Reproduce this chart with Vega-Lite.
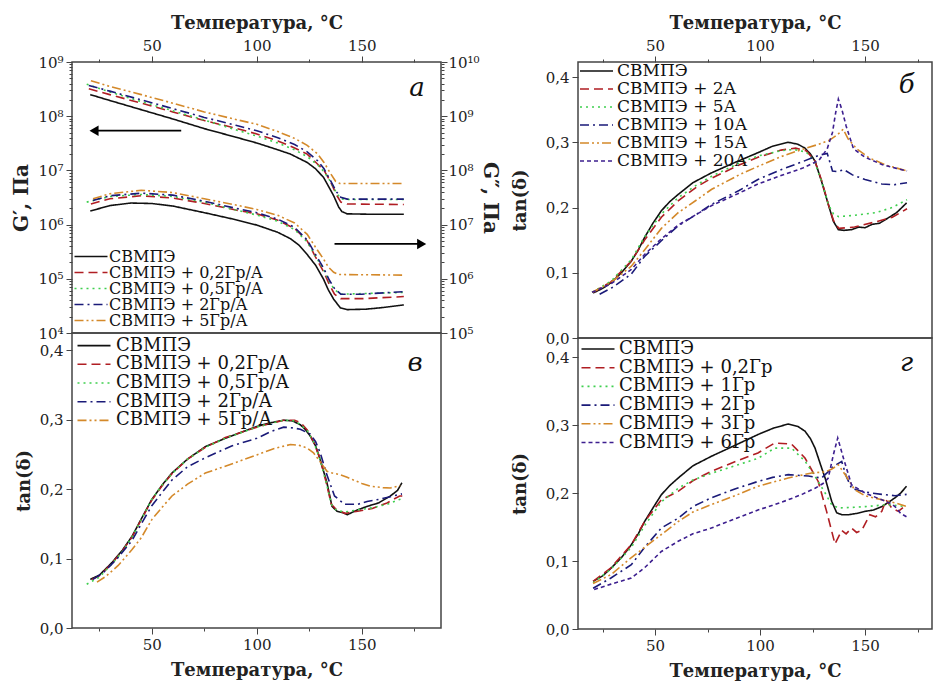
{
"$schema": "https://vega.github.io/schema/vega-lite/v6.json",
"background": "white",
"padding": {"left": 11, "top": 13, "right": 1, "bottom": 0},
"spacing": 10,
"config": {
 "view": {"stroke": "#444", "strokeWidth": 1.5},
 "font": "DejaVu Serif",
 "axis": {"domain": false, "grid": false, "labelFont": "DejaVu Serif", "labelFontSize": 15, "labelColor": "#222", "titleFont": "DejaVu Serif", "titleFontSize": 18, "titleFontWeight": "bold", "titleColor": "#222", "tickColor": "#444", "tickWidth": 1, "labelPadding": 3, "titlePadding": 6, "labelOverlap": false, "labelFlush": false},
 "line": {"strokeWidth": 1.6}
},
"datasets": {
 "aG1": [
  {"k":"0","T":20.7,"v":2.5e8},{"k":"0","T":30,"v":1.95e8},{"k":"0","T":43.8,"v":1.36e8},{"k":"0","T":60,"v":8.9e7},{"k":"0","T":75,"v":5.9e7},{"k":"0","T":90,"v":4.1e7},{"k":"0","T":100,"v":3.2e7},{"k":"0","T":110,"v":2.4e7},{"k":"0","T":116,"v":2.0e7},{"k":"0","T":124,"v":1.4e7},{"k":"0","T":128,"v":1.07e7},{"k":"0","T":131.8,"v":7.4e6},{"k":"0","T":134,"v":5.2e6},{"k":"0","T":136.6,"v":3.4e6},{"k":"0","T":139,"v":2.1e6},{"k":"0","T":140.5,"v":1.74e6},{"k":"0","T":143,"v":1.58e6},{"k":"0","T":155,"v":1.55e6},{"k":"0","T":170,"v":1.55e6},
  {"k":"0,2Гр/А","T":20,"v":3.2e8},{"k":"0,2Гр/А","T":30,"v":2.5e8},{"k":"0,2Гр/А","T":45,"v":1.74e8},{"k":"0,2Гр/А","T":60,"v":1.2e8},{"k":"0,2Гр/А","T":75,"v":8.3e7},{"k":"0,2Гр/А","T":90,"v":6.0e7},{"k":"0,2Гр/А","T":100,"v":4.7e7},{"k":"0,2Гр/А","T":110,"v":3.5e7},{"k":"0,2Гр/А","T":118,"v":2.6e7},{"k":"0,2Гр/А","T":124,"v":2.0e7},{"k":"0,2Гр/А","T":129,"v":1.3e7},{"k":"0,2Гр/А","T":132,"v":1.0e7},{"k":"0,2Гр/А","T":135,"v":6.3e6},{"k":"0,2Гр/А","T":138,"v":3.5e6},{"k":"0,2Гр/А","T":140,"v":2.6e6},{"k":"0,2Гр/А","T":143,"v":2.4e6},{"k":"0,2Гр/А","T":170,"v":2.35e6},
  {"k":"0,5Гр/А","T":19,"v":3.9e8},{"k":"0,5Гр/А","T":30,"v":2.8e8},{"k":"0,5Гр/А","T":45,"v":1.86e8},{"k":"0,5Гр/А","T":60,"v":1.26e8},{"k":"0,5Гр/А","T":75,"v":8.5e7},{"k":"0,5Гр/А","T":90,"v":5.6e7},{"k":"0,5Гр/А","T":100,"v":4.3e7},{"k":"0,5Гр/А","T":110,"v":3.2e7},{"k":"0,5Гр/А","T":118,"v":2.4e7},{"k":"0,5Гр/А","T":124,"v":1.8e7},{"k":"0,5Гр/А","T":129,"v":1.26e7},{"k":"0,5Гр/А","T":132,"v":9.5e6},{"k":"0,5Гр/А","T":135,"v":6.3e6},{"k":"0,5Гр/А","T":138,"v":3.8e6},{"k":"0,5Гр/А","T":140,"v":3.0e6},{"k":"0,5Гр/А","T":143,"v":2.9e6},{"k":"0,5Гр/А","T":170,"v":2.9e6},
  {"k":"2Гр/А","T":20,"v":3.7e8},{"k":"2Гр/А","T":30,"v":2.9e8},{"k":"2Гр/А","T":45,"v":2.0e8},{"k":"2Гр/А","T":60,"v":1.38e8},{"k":"2Гр/А","T":75,"v":9.5e7},{"k":"2Гр/А","T":90,"v":6.8e7},{"k":"2Гр/А","T":100,"v":5.4e7},{"k":"2Гр/А","T":110,"v":4.0e7},{"k":"2Гр/А","T":118,"v":3.0e7},{"k":"2Гр/А","T":124,"v":2.2e7},{"k":"2Гр/А","T":129,"v":1.5e7},{"k":"2Гр/А","T":132,"v":1.07e7},{"k":"2Гр/А","T":135,"v":6.6e6},{"k":"2Гр/А","T":138,"v":4.0e6},{"k":"2Гр/А","T":140,"v":3.2e6},{"k":"2Гр/А","T":143,"v":2.95e6},{"k":"2Гр/А","T":170,"v":2.95e6},
  {"k":"5Гр/А","T":21,"v":4.5e8},{"k":"5Гр/А","T":30,"v":3.55e8},{"k":"5Гр/А","T":45,"v":2.5e8},{"k":"5Гр/А","T":60,"v":1.74e8},{"k":"5Гр/А","T":75,"v":1.2e8},{"k":"5Гр/А","T":90,"v":8.7e7},{"k":"5Гр/А","T":100,"v":7.1e7},{"k":"5Гр/А","T":110,"v":5.2e7},{"k":"5Гр/А","T":118,"v":3.9e7},{"k":"5Гр/А","T":124,"v":2.9e7},{"k":"5Гр/А","T":129,"v":2.0e7},{"k":"5Гр/А","T":132,"v":1.4e7},{"k":"5Гр/А","T":135,"v":8.9e6},{"k":"5Гр/А","T":137.5,"v":6.3e6},{"k":"5Гр/А","T":139.5,"v":5.75e6},{"k":"5Гр/А","T":170,"v":5.75e6}
 ],
 "aG2": [
  {"k":"0","T":20.7,"v":1.78e7},{"k":"0","T":30,"v":2.24e7},{"k":"0","T":40,"v":2.5e7},{"k":"0","T":50,"v":2.45e7},{"k":"0","T":60,"v":2.2e7},{"k":"0","T":75,"v":1.66e7},{"k":"0","T":90,"v":1.23e7},{"k":"0","T":100,"v":9.8e6},{"k":"0","T":110,"v":7.2e6},{"k":"0","T":116,"v":5.5e6},{"k":"0","T":120,"v":4.2e6},{"k":"0","T":124,"v":2.8e6},{"k":"0","T":128,"v":1.78e6},{"k":"0","T":131.8,"v":9.8e5},{"k":"0","T":134,"v":6.3e5},{"k":"0","T":136.6,"v":4.2e5},{"k":"0","T":139.8,"v":2.9e5},{"k":"0","T":143,"v":2.7e5},{"k":"0","T":152,"v":2.75e5},{"k":"0","T":160,"v":2.95e5},{"k":"0","T":170,"v":3.3e5},
  {"k":"0,2Гр/А","T":21,"v":2.4e7},{"k":"0,2Гр/А","T":30,"v":3.0e7},{"k":"0,2Гр/А","T":45,"v":3.4e7},{"k":"0,2Гр/А","T":60,"v":3.1e7},{"k":"0,2Гр/А","T":75,"v":2.45e7},{"k":"0,2Гр/А","T":90,"v":1.86e7},{"k":"0,2Гр/А","T":100,"v":1.58e7},{"k":"0,2Гр/А","T":110,"v":1.2e7},{"k":"0,2Гр/А","T":118,"v":8.5e6},{"k":"0,2Гр/А","T":124,"v":5.0e6},{"k":"0,2Гр/А","T":128,"v":2.5e6},{"k":"0,2Гр/А","T":131.8,"v":1.35e6},{"k":"0,2Гр/А","T":134.5,"v":7.9e5},{"k":"0,2Гр/А","T":137,"v":5.2e5},{"k":"0,2Гр/А","T":140,"v":4.3e5},{"k":"0,2Гр/А","T":150,"v":4.3e5},{"k":"0,2Гр/А","T":170,"v":4.7e5},
  {"k":"0,5Гр/А","T":19,"v":2.6e7},{"k":"0,5Гр/А","T":30,"v":3.3e7},{"k":"0,5Гр/А","T":45,"v":3.6e7},{"k":"0,5Гр/А","T":60,"v":3.3e7},{"k":"0,5Гр/А","T":75,"v":2.6e7},{"k":"0,5Гр/А","T":90,"v":1.86e7},{"k":"0,5Гр/А","T":100,"v":1.5e7},{"k":"0,5Гр/А","T":110,"v":1.15e7},{"k":"0,5Гр/А","T":118,"v":8.1e6},{"k":"0,5Гр/А","T":124,"v":4.8e6},{"k":"0,5Гр/А","T":128,"v":2.6e6},{"k":"0,5Гр/А","T":131.8,"v":1.48e6},{"k":"0,5Гр/А","T":134.5,"v":8.9e5},{"k":"0,5Гр/А","T":137,"v":6.3e5},{"k":"0,5Гр/А","T":140,"v":5.2e5},{"k":"0,5Гр/А","T":170,"v":5.6e5},
  {"k":"2Гр/А","T":22,"v":2.8e7},{"k":"2Гр/А","T":30,"v":3.4e7},{"k":"2Гр/А","T":45,"v":3.8e7},{"k":"2Гр/А","T":60,"v":3.5e7},{"k":"2Гр/А","T":75,"v":2.7e7},{"k":"2Гр/А","T":90,"v":2.0e7},{"k":"2Гр/А","T":100,"v":1.66e7},{"k":"2Гр/А","T":110,"v":1.26e7},{"k":"2Гр/А","T":118,"v":8.9e6},{"k":"2Гр/А","T":124,"v":5.2e6},{"k":"2Гр/А","T":128,"v":2.8e6},{"k":"2Гр/А","T":131.8,"v":1.58e6},{"k":"2Гр/А","T":134.5,"v":9.5e5},{"k":"2Гр/А","T":137,"v":6.6e5},{"k":"2Гр/А","T":140,"v":5.2e5},{"k":"2Гр/А","T":150,"v":5.2e5},{"k":"2Гр/А","T":170,"v":5.8e5},
  {"k":"5Гр/А","T":22,"v":3.0e7},{"k":"5Гр/А","T":30,"v":3.7e7},{"k":"5Гр/А","T":45,"v":4.3e7},{"k":"5Гр/А","T":60,"v":3.9e7},{"k":"5Гр/А","T":75,"v":3.0e7},{"k":"5Гр/А","T":90,"v":2.3e7},{"k":"5Гр/А","T":100,"v":1.9e7},{"k":"5Гр/А","T":110,"v":1.48e7},{"k":"5Гр/А","T":118,"v":1.07e7},{"k":"5Гр/А","T":124,"v":6.6e6},{"k":"5Гр/А","T":128,"v":3.8e6},{"k":"5Гр/А","T":131.8,"v":2.3e6},{"k":"5Гр/А","T":134,"v":1.66e6},{"k":"5Гр/А","T":136.6,"v":1.32e6},{"k":"5Гр/А","T":139,"v":1.2e6},{"k":"5Гр/А","T":170,"v":1.17e6}
 ],
 "vv": [
  {"k":"0","T":20.7,"v":0.07},{"k":"0","T":25,"v":0.076},{"k":"0","T":31,"v":0.094},{"k":"0","T":36,"v":0.112},{"k":"0","T":40.6,"v":0.132},{"k":"0","T":45,"v":0.157},{"k":"0","T":50,"v":0.185},{"k":"0","T":55,"v":0.206},{"k":"0","T":59.6,"v":0.223},{"k":"0","T":67,"v":0.243},{"k":"0","T":75.5,"v":0.261},{"k":"0","T":85,"v":0.273},{"k":"0","T":100,"v":0.29},{"k":"0","T":106,"v":0.295},{"k":"0","T":112.8,"v":0.299},{"k":"0","T":117,"v":0.298},{"k":"0","T":120.7,"v":0.2925},{"k":"0","T":123,"v":0.286},{"k":"0","T":125.5,"v":0.276},{"k":"0","T":128,"v":0.262},{"k":"0","T":130.2,"v":0.242},{"k":"0","T":133.4,"v":0.209},{"k":"0","T":135.8,"v":0.175},{"k":"0","T":138.2,"v":0.168},{"k":"0","T":141,"v":0.166},{"k":"0","T":143,"v":0.163},{"k":"0","T":148,"v":0.17},{"k":"0","T":152.5,"v":0.175},{"k":"0","T":158,"v":0.18},{"k":"0","T":163.6,"v":0.19},{"k":"0","T":167,"v":0.198},{"k":"0","T":169.1,"v":0.209},
  {"k":"0,2Гр/А","T":21.5,"v":0.07},{"k":"0,2Гр/А","T":25,"v":0.075},{"k":"0,2Гр/А","T":31,"v":0.093},{"k":"0,2Гр/А","T":36,"v":0.111},{"k":"0,2Гр/А","T":40.6,"v":0.131},{"k":"0,2Гр/А","T":45,"v":0.156},{"k":"0,2Гр/А","T":50,"v":0.184},{"k":"0,2Гр/А","T":55,"v":0.205},{"k":"0,2Гр/А","T":59.6,"v":0.222},{"k":"0,2Гр/А","T":67,"v":0.243},{"k":"0,2Гр/А","T":75.5,"v":0.26},{"k":"0,2Гр/А","T":85,"v":0.274},{"k":"0,2Гр/А","T":100,"v":0.289},{"k":"0,2Гр/А","T":106,"v":0.294},{"k":"0,2Гр/А","T":112.8,"v":0.299},{"k":"0,2Гр/А","T":118,"v":0.299},{"k":"0,2Гр/А","T":121,"v":0.295},{"k":"0,2Гр/А","T":124,"v":0.285},{"k":"0,2Гр/А","T":127,"v":0.268},{"k":"0,2Гр/А","T":130,"v":0.245},{"k":"0,2Гр/А","T":133,"v":0.21},{"k":"0,2Гр/А","T":135.5,"v":0.178},{"k":"0,2Гр/А","T":138,"v":0.17},{"k":"0,2Гр/А","T":142,"v":0.165},{"k":"0,2Гр/А","T":148,"v":0.168},{"k":"0,2Гр/А","T":155,"v":0.172},{"k":"0,2Гр/А","T":162,"v":0.18},{"k":"0,2Гр/А","T":168,"v":0.19},{"k":"0,2Гр/А","T":170,"v":0.19},
  {"k":"0,5Гр/А","T":19,"v":0.063},{"k":"0,5Гр/А","T":25,"v":0.073},{"k":"0,5Гр/А","T":31,"v":0.092},{"k":"0,5Гр/А","T":36,"v":0.11},{"k":"0,5Гр/А","T":40.6,"v":0.131},{"k":"0,5Гр/А","T":45,"v":0.156},{"k":"0,5Гр/А","T":50,"v":0.185},{"k":"0,5Гр/А","T":55,"v":0.206},{"k":"0,5Гр/А","T":59.6,"v":0.222},{"k":"0,5Гр/А","T":67,"v":0.243},{"k":"0,5Гр/А","T":75.5,"v":0.26},{"k":"0,5Гр/А","T":85,"v":0.273},{"k":"0,5Гр/А","T":100,"v":0.289},{"k":"0,5Гр/А","T":106,"v":0.294},{"k":"0,5Гр/А","T":112.8,"v":0.299},{"k":"0,5Гр/А","T":118,"v":0.298},{"k":"0,5Гр/А","T":121,"v":0.292},{"k":"0,5Гр/А","T":124,"v":0.284},{"k":"0,5Гр/А","T":127,"v":0.268},{"k":"0,5Гр/А","T":130,"v":0.244},{"k":"0,5Гр/А","T":133,"v":0.21},{"k":"0,5Гр/А","T":135.5,"v":0.178},{"k":"0,5Гр/А","T":138,"v":0.169},{"k":"0,5Гр/А","T":142,"v":0.167},{"k":"0,5Гр/А","T":148,"v":0.17},{"k":"0,5Гр/А","T":155,"v":0.173},{"k":"0,5Гр/А","T":162,"v":0.178},{"k":"0,5Гр/А","T":168,"v":0.185},{"k":"0,5Гр/А","T":170,"v":0.188},
  {"k":"2Гр/А","T":22,"v":0.07},{"k":"2Гр/А","T":27,"v":0.08},{"k":"2Гр/А","T":33,"v":0.098},{"k":"2Гр/А","T":40.6,"v":0.126},{"k":"2Гр/А","T":45,"v":0.15},{"k":"2Гр/А","T":50,"v":0.176},{"k":"2Гр/А","T":59.6,"v":0.213},{"k":"2Гр/А","T":67,"v":0.232},{"k":"2Гр/А","T":75.5,"v":0.245},{"k":"2Гр/А","T":88,"v":0.262},{"k":"2Гр/А","T":100,"v":0.273},{"k":"2Гр/А","T":107,"v":0.283},{"k":"2Гр/А","T":112.8,"v":0.289},{"k":"2Гр/А","T":117,"v":0.288},{"k":"2Гр/А","T":120.7,"v":0.286},{"k":"2Гр/А","T":125.5,"v":0.279},{"k":"2Гр/А","T":128,"v":0.268},{"k":"2Гр/А","T":130.2,"v":0.252},{"k":"2Гр/А","T":133.4,"v":0.22},{"k":"2Гр/А","T":137,"v":0.19},{"k":"2Гр/А","T":141.8,"v":0.178},{"k":"2Гр/А","T":148,"v":0.178},{"k":"2Гр/А","T":152.5,"v":0.182},{"k":"2Гр/А","T":158,"v":0.185},{"k":"2Гр/А","T":163.6,"v":0.189},{"k":"2Гр/А","T":169.1,"v":0.193},
  {"k":"5Гр/А","T":23.9,"v":0.066},{"k":"5Гр/А","T":28,"v":0.074},{"k":"5Гр/А","T":34,"v":0.09},{"k":"5Гр/А","T":40.6,"v":0.113},{"k":"5Гр/А","T":45,"v":0.13},{"k":"5Гр/А","T":50,"v":0.156},{"k":"5Гр/А","T":55,"v":0.174},{"k":"5Гр/А","T":59.6,"v":0.19},{"k":"5Гр/А","T":67,"v":0.207},{"k":"5Гр/А","T":75.5,"v":0.223},{"k":"5Гр/А","T":88,"v":0.236},{"k":"5Гр/А","T":100,"v":0.249},{"k":"5Гр/А","T":108,"v":0.258},{"k":"5Гр/А","T":116,"v":0.264},{"k":"5Гр/А","T":120,"v":0.263},{"k":"5Гр/А","T":124,"v":0.259},{"k":"5Гр/А","T":127,"v":0.252},{"k":"5Гр/А","T":130,"v":0.24},{"k":"5Гр/А","T":133.4,"v":0.2255},{"k":"5Гр/А","T":136,"v":0.223},{"k":"5Гр/А","T":139.8,"v":0.2205},{"k":"5Гр/А","T":143,"v":0.217},{"k":"5Гр/А","T":146,"v":0.213},{"k":"5Гр/А","T":150,"v":0.208},{"k":"5Гр/А","T":154,"v":0.204},{"k":"5Гр/А","T":160,"v":0.202},{"k":"5Гр/А","T":163.6,"v":0.2015},{"k":"5Гр/А","T":168.3,"v":0.205}
 ],
 "bb": [
  {"k":"0","T":20.5,"v":0.069},{"k":"0","T":25,"v":0.076},{"k":"0","T":29.2,"v":0.085},{"k":"0","T":34,"v":0.1},{"k":"0","T":38.7,"v":0.118},{"k":"0","T":42,"v":0.135},{"k":"0","T":45,"v":0.154},{"k":"0","T":49,"v":0.176},{"k":"0","T":53,"v":0.195},{"k":"0","T":57,"v":0.209},{"k":"0","T":61,"v":0.22},{"k":"0","T":68,"v":0.238},{"k":"0","T":76.8,"v":0.253},{"k":"0","T":88,"v":0.269},{"k":"0","T":99,"v":0.284},{"k":"0","T":106,"v":0.294},{"k":"0","T":113.4,"v":0.3},{"k":"0","T":118,"v":0.297},{"k":"0","T":121.4,"v":0.291},{"k":"0","T":124,"v":0.282},{"k":"0","T":126.2,"v":0.271},{"k":"0","T":129.3,"v":0.24},{"k":"0","T":132.5,"v":0.205},{"k":"0","T":134.9,"v":0.179},{"k":"0","T":137.3,"v":0.166},{"k":"0","T":140,"v":0.165},{"k":"0","T":143.6,"v":0.166},{"k":"0","T":147,"v":0.17},{"k":"0","T":150,"v":0.169},{"k":"0","T":153.2,"v":0.174},{"k":"0","T":157,"v":0.176},{"k":"0","T":161,"v":0.184},{"k":"0","T":165,"v":0.192},{"k":"0","T":169.8,"v":0.207},
  {"k":"2А","T":20.5,"v":0.07},{"k":"2А","T":29,"v":0.086},{"k":"2А","T":38.7,"v":0.118},{"k":"2А","T":45,"v":0.15},{"k":"2А","T":53,"v":0.185},{"k":"2А","T":61,"v":0.21},{"k":"2А","T":70,"v":0.232},{"k":"2А","T":77,"v":0.245},{"k":"2А","T":90,"v":0.265},{"k":"2А","T":99,"v":0.277},{"k":"2А","T":110,"v":0.288},{"k":"2А","T":117,"v":0.291},{"k":"2А","T":122,"v":0.287},{"k":"2А","T":126,"v":0.272},{"k":"2А","T":129.5,"v":0.24},{"k":"2А","T":132.5,"v":0.205},{"k":"2А","T":135,"v":0.18},{"k":"2А","T":137.5,"v":0.168},{"k":"2А","T":145,"v":0.17},{"k":"2А","T":155,"v":0.178},{"k":"2А","T":163,"v":0.185},{"k":"2А","T":170,"v":0.198},
  {"k":"5А","T":20,"v":0.07},{"k":"5А","T":29,"v":0.087},{"k":"5А","T":38.7,"v":0.12},{"k":"5А","T":45,"v":0.155},{"k":"5А","T":53,"v":0.19},{"k":"5А","T":61,"v":0.215},{"k":"5А","T":70,"v":0.235},{"k":"5А","T":77,"v":0.248},{"k":"5А","T":90,"v":0.268},{"k":"5А","T":99,"v":0.279},{"k":"5А","T":110,"v":0.287},{"k":"5А","T":116,"v":0.289},{"k":"5А","T":122,"v":0.285},{"k":"5А","T":126,"v":0.27},{"k":"5А","T":129.5,"v":0.238},{"k":"5А","T":132.5,"v":0.205},{"k":"5А","T":135,"v":0.19},{"k":"5А","T":137.5,"v":0.186},{"k":"5А","T":145,"v":0.188},{"k":"5А","T":155,"v":0.192},{"k":"5А","T":163,"v":0.2},{"k":"5А","T":170,"v":0.212},
  {"k":"10А","T":23.6,"v":0.067},{"k":"10А","T":30,"v":0.078},{"k":"10А","T":38.7,"v":0.098},{"k":"10А","T":45,"v":0.125},{"k":"10А","T":53,"v":0.149},{"k":"10А","T":61,"v":0.172},{"k":"10А","T":70,"v":0.19},{"k":"10А","T":77,"v":0.205},{"k":"10А","T":90,"v":0.226},{"k":"10А","T":99,"v":0.243},{"k":"10А","T":110,"v":0.258},{"k":"10А","T":120,"v":0.27},{"k":"10А","T":128,"v":0.28},{"k":"10А","T":132,"v":0.283},{"k":"10А","T":134.5,"v":0.256},{"k":"10А","T":137,"v":0.255},{"k":"10А","T":140,"v":0.258},{"k":"10А","T":144,"v":0.25},{"k":"10А","T":150,"v":0.243},{"k":"10А","T":158,"v":0.236},{"k":"10А","T":164,"v":0.235},{"k":"10А","T":170,"v":0.238},
  {"k":"15А","T":20,"v":0.07},{"k":"15А","T":29,"v":0.085},{"k":"15А","T":38.7,"v":0.11},{"k":"15А","T":45,"v":0.135},{"k":"15А","T":53,"v":0.168},{"k":"15А","T":61,"v":0.192},{"k":"15А","T":70,"v":0.212},{"k":"15А","T":77,"v":0.228},{"k":"15А","T":90,"v":0.25},{"k":"15А","T":99,"v":0.263},{"k":"15А","T":110,"v":0.278},{"k":"15А","T":120,"v":0.289},{"k":"15А","T":128,"v":0.297},{"k":"15А","T":133,"v":0.303},{"k":"15А","T":137,"v":0.312},{"k":"15А","T":139.6,"v":0.32},{"k":"15А","T":142,"v":0.305},{"k":"15А","T":146,"v":0.29},{"k":"15А","T":152,"v":0.276},{"k":"15А","T":160,"v":0.265},{"k":"15А","T":170,"v":0.256},
  {"k":"20А","T":20,"v":0.07},{"k":"20А","T":29,"v":0.083},{"k":"20А","T":38.7,"v":0.105},{"k":"20А","T":45,"v":0.128},{"k":"20А","T":53,"v":0.152},{"k":"20А","T":61,"v":0.173},{"k":"20А","T":70,"v":0.19},{"k":"20А","T":77,"v":0.203},{"k":"20А","T":90,"v":0.222},{"k":"20А","T":99,"v":0.236},{"k":"20А","T":110,"v":0.249},{"k":"20А","T":120,"v":0.26},{"k":"20А","T":128,"v":0.272},{"k":"20А","T":132,"v":0.29},{"k":"20А","T":134.5,"v":0.315},{"k":"20А","T":136,"v":0.345},{"k":"20А","T":137.3,"v":0.366},{"k":"20А","T":139,"v":0.35},{"k":"20А","T":141,"v":0.325},{"k":"20А","T":144.5,"v":0.29},{"k":"20А","T":150,"v":0.277},{"k":"20А","T":158,"v":0.266},{"k":"20А","T":165,"v":0.26},{"k":"20А","T":170,"v":0.256}
 ],
 "gg": [
  {"k":"0","T":20.5,"v":0.07},{"k":"0","T":25,"v":0.078},{"k":"0","T":29.2,"v":0.09},{"k":"0","T":34,"v":0.105},{"k":"0","T":38.7,"v":0.124},{"k":"0","T":42,"v":0.14},{"k":"0","T":45,"v":0.158},{"k":"0","T":49,"v":0.178},{"k":"0","T":53,"v":0.1975},{"k":"0","T":57,"v":0.211},{"k":"0","T":61,"v":0.222},{"k":"0","T":68,"v":0.24},{"k":"0","T":76.8,"v":0.254},{"k":"0","T":88,"v":0.27},{"k":"0","T":99,"v":0.286},{"k":"0","T":106,"v":0.295},{"k":"0","T":113.4,"v":0.3015},{"k":"0","T":118,"v":0.298},{"k":"0","T":121.4,"v":0.291},{"k":"0","T":124,"v":0.28},{"k":"0","T":126.2,"v":0.266},{"k":"0","T":129,"v":0.24},{"k":"0","T":131,"v":0.222},{"k":"0","T":134.1,"v":0.188},{"k":"0","T":136.5,"v":0.171},{"k":"0","T":139,"v":0.168},{"k":"0","T":142,"v":0.168},{"k":"0","T":146,"v":0.17},{"k":"0","T":150,"v":0.173},{"k":"0","T":154,"v":0.175},{"k":"0","T":158,"v":0.18},{"k":"0","T":161,"v":0.186},{"k":"0","T":164.3,"v":0.193},{"k":"0","T":167,"v":0.2},{"k":"0","T":169.8,"v":0.21},
  {"k":"0,2Гр","T":20.5,"v":0.07},{"k":"0,2Гр","T":29,"v":0.09},{"k":"0,2Гр","T":38.7,"v":0.124},{"k":"0,2Гр","T":45,"v":0.158},{"k":"0,2Гр","T":53,"v":0.19},{"k":"0,2Гр","T":61,"v":0.2025},{"k":"0,2Гр","T":68,"v":0.218},{"k":"0,2Гр","T":76.8,"v":0.232},{"k":"0,2Гр","T":88,"v":0.246},{"k":"0,2Гр","T":99,"v":0.259},{"k":"0,2Гр","T":107,"v":0.2735},{"k":"0,2Гр","T":115,"v":0.272},{"k":"0,2Гр","T":121.4,"v":0.2515},{"k":"0,2Гр","T":127.7,"v":0.217},{"k":"0,2Гр","T":131.7,"v":0.173},{"k":"0,2Гр","T":135.7,"v":0.125},{"k":"0,2Гр","T":138.9,"v":0.145},{"k":"0,2Гр","T":141,"v":0.14},{"k":"0,2Гр","T":143.6,"v":0.1485},{"k":"0,2Гр","T":146,"v":0.142},{"k":"0,2Гр","T":148.4,"v":0.145},{"k":"0,2Гр","T":152.3,"v":0.168},{"k":"0,2Гр","T":155,"v":0.165},{"k":"0,2Гр","T":158,"v":0.173},{"k":"0,2Гр","T":160,"v":0.19},{"k":"0,2Гр","T":162.7,"v":0.178},{"k":"0,2Гр","T":165.9,"v":0.173},{"k":"0,2Гр","T":169.8,"v":0.183},
  {"k":"1Гр","T":20.5,"v":0.068},{"k":"1Гр","T":29,"v":0.088},{"k":"1Гр","T":38.7,"v":0.12},{"k":"1Гр","T":45,"v":0.152},{"k":"1Гр","T":53,"v":0.187},{"k":"1Гр","T":61,"v":0.207},{"k":"1Гр","T":68,"v":0.219},{"k":"1Гр","T":76.8,"v":0.229},{"k":"1Гр","T":88,"v":0.24},{"k":"1Гр","T":99,"v":0.251},{"k":"1Гр","T":107,"v":0.266},{"k":"1Гр","T":115,"v":0.266},{"k":"1Гр","T":121.4,"v":0.247},{"k":"1Гр","T":126.2,"v":0.2245},{"k":"1Гр","T":131,"v":0.2},{"k":"1Гр","T":134.1,"v":0.183},{"k":"1Гр","T":137.3,"v":0.178},{"k":"1Гр","T":145,"v":0.179},{"k":"1Гр","T":150,"v":0.18},{"k":"1Гр","T":161,"v":0.183},{"k":"1Гр","T":169.8,"v":0.18},
  {"k":"2Гр","T":20.5,"v":0.06},{"k":"2Гр","T":29,"v":0.075},{"k":"2Гр","T":38.7,"v":0.0945},{"k":"2Гр","T":45,"v":0.12},{"k":"2Гр","T":53,"v":0.1485},{"k":"2Гр","T":61,"v":0.163},{"k":"2Гр","T":68,"v":0.18},{"k":"2Гр","T":76.8,"v":0.193},{"k":"2Гр","T":88,"v":0.206},{"k":"2Гр","T":99,"v":0.217},{"k":"2Гр","T":106,"v":0.223},{"k":"2Гр","T":113.4,"v":0.227},{"k":"2Гр","T":123,"v":0.225},{"k":"2Гр","T":129.3,"v":0.222},{"k":"2Гр","T":132,"v":0.23},{"k":"2Гр","T":134.9,"v":0.239},{"k":"2Гр","T":138.9,"v":0.2465},{"k":"2Гр","T":141,"v":0.225},{"k":"2Гр","T":143.6,"v":0.207},{"k":"2Гр","T":148,"v":0.203},{"k":"2Гр","T":153,"v":0.2},{"k":"2Гр","T":158,"v":0.198},{"k":"2Гр","T":164.3,"v":0.196},{"k":"2Гр","T":169.8,"v":0.198},
  {"k":"3Гр","T":20.5,"v":0.067},{"k":"3Гр","T":29,"v":0.08},{"k":"3Гр","T":38.7,"v":0.105},{"k":"3Гр","T":45,"v":0.12},{"k":"3Гр","T":53,"v":0.139},{"k":"3Гр","T":61,"v":0.158},{"k":"3Гр","T":68,"v":0.172},{"k":"3Гр","T":76.8,"v":0.183},{"k":"3Гр","T":88,"v":0.196},{"k":"3Гр","T":99,"v":0.21},{"k":"3Гр","T":106,"v":0.216},{"k":"3Гр","T":113.4,"v":0.222},{"k":"3Гр","T":124.6,"v":0.2295},{"k":"3Гр","T":131,"v":0.231},{"k":"3Гр","T":134,"v":0.235},{"k":"3Гр","T":137.3,"v":0.2415},{"k":"3Гр","T":141,"v":0.225},{"k":"3Гр","T":145,"v":0.205},{"k":"3Гр","T":150,"v":0.196},{"k":"3Гр","T":158,"v":0.19},{"k":"3Гр","T":165,"v":0.185},{"k":"3Гр","T":170,"v":0.18},
  {"k":"6Гр","T":21,"v":0.058},{"k":"6Гр","T":29,"v":0.066},{"k":"6Гр","T":38.7,"v":0.075},{"k":"6Гр","T":45,"v":0.09},{"k":"6Гр","T":53,"v":0.114},{"k":"6Гр","T":61,"v":0.129},{"k":"6Гр","T":68,"v":0.14},{"k":"6Гр","T":76.8,"v":0.1485},{"k":"6Гр","T":88,"v":0.162},{"k":"6Гр","T":99,"v":0.175},{"k":"6Гр","T":106,"v":0.182},{"k":"6Гр","T":113.4,"v":0.19},{"k":"6Гр","T":120,"v":0.198},{"k":"6Гр","T":126.2,"v":0.207},{"k":"6Гр","T":130,"v":0.214},{"k":"6Гр","T":132.5,"v":0.222},{"k":"6Гр","T":134.9,"v":0.256},{"k":"6Гр","T":137,"v":0.281},{"k":"6Гр","T":139.7,"v":0.2515},{"k":"6Гр","T":143.6,"v":0.212},{"k":"6Гр","T":150,"v":0.2},{"k":"6Гр","T":158,"v":0.19},{"k":"6Гр","T":162,"v":0.185},{"k":"6Гр","T":164.3,"v":0.18},{"k":"6Гр","T":167,"v":0.17},{"k":"6Гр","T":169.8,"v":0.165}
 ]
},
"hconcat": [
 {
  "bounds": "flush",
  "spacing": 0,
  "vconcat": [
   {
    "width": 369, "height": 271,
    "layer": [
     {
      "layer": [
       {
        "data": {"name": "aG1"},
        "mark": {"type": "line", "strokeWidth": 1.6},
        "encoding": {
         "x": {"field": "T", "type": "quantitative", "title": "Температура, °С", "scale": {"domain": [12, 187.7], "nice": false, "zero": false}, "axis": {"orient": "top", "values": [25,50,75,100,125,150,175], "labelExpr": "datum.value % 50 === 0 ? datum.label : ''", "tickSize": {"condition": {"test": "datum.value % 50 === 0", "value": 6}, "value": 3}}},
         "y": {"field": "v", "type": "quantitative", "title": "G′, Па", "scale": {"type": "log", "domain": [1e4, 1e9], "nice": false}, "axis": {"orient": "left", "titleFontSize": 20, "values": [1e4,2e4,3e4,4e4,5e4,6e4,7e4,8e4,9e4,1e5,2e5,3e5,4e5,5e5,6e5,7e5,8e5,9e5,1e6,2e6,3e6,4e6,5e6,6e6,7e6,8e6,9e6,1e7,2e7,3e7,4e7,5e7,6e7,7e7,8e7,9e7,1e8,2e8,3e8,4e8,5e8,6e8,7e8,8e8,9e8,1e9], "labelExpr": "abs(log(datum.value)/LN10 - round(log(datum.value)/LN10)) < 0.001 ? '10' + ['⁰','¹','²','³','⁴','⁵','⁶','⁷','⁸','⁹','¹⁰'][round(log(datum.value)/LN10)] : ''", "tickSize": {"condition": {"test": "abs(log(datum.value)/LN10 - round(log(datum.value)/LN10)) < 0.001", "value": 6}, "value": 3}}},
         "color": {"field": "k", "type": "nominal", "scale": {"domain": ["0","0,2Гр/А","0,5Гр/А","2Гр/А","5Гр/А"], "range": ["#111111","#b01e23","#3fcf4f","#1a1a78","#d4892a"]}, "legend": {"orient": "none", "legendX": 11, "legendY": 186.5, "title": null, "padding": 0, "rowPadding": 0, "labelFont": "DejaVu Serif", "labelFontSize": 16, "labelColor": "#111", "symbolType": "M-3,0H3", "symbolSize": 121, "symbolStrokeWidth": 1.8, "labelOffset": 10, "labelLimit": 400, "labelExpr": "datum.value == '0' ? 'СВМПЭ' : 'СВМПЭ + ' + datum.value"}},
         "strokeDash": {"field": "k", "type": "nominal", "scale": {"domain": ["0","0,2Гр/А","0,5Гр/А","2Гр/А","5Гр/А"], "range": [[1,0],[9,5],[2,4],[9,4,2,4],[9,3,2,3,2,3]]}, "legend": {"orient": "none", "legendX": 11, "legendY": 186.5, "title": null, "padding": 0, "rowPadding": 0, "labelFont": "DejaVu Serif", "labelFontSize": 16, "labelColor": "#111", "symbolType": "M-3,0H3", "symbolSize": 121, "symbolStrokeWidth": 1.8, "labelOffset": 10, "labelLimit": 400, "labelExpr": "datum.value == '0' ? 'СВМПЭ' : 'СВМПЭ + ' + datum.value"}}
        }
       },
       {
        "data": {"values": [{"T1": 24, "T2": 64, "v": 5.4e7}, {"T1": 137, "T2": 177, "v": 4.4e5}]},
        "mark": {"type": "rule", "color": "#000", "strokeWidth": 1.8},
        "encoding": {"x": {"field": "T1", "type": "quantitative", "title": "Температура, °С"}, "x2": {"field": "T2"}, "y": {"field": "v", "type": "quantitative", "title": "G′, Па"}}
       },
       {
        "data": {"values": [{"T": 22.5, "v": 5.4e7}]},
        "mark": {"type": "point", "shape": "triangle-left", "filled": true, "color": "#000", "opacity": 1, "size": 110},
        "encoding": {"x": {"field": "T", "type": "quantitative", "title": "Температура, °С"}, "y": {"field": "v", "type": "quantitative", "title": "G′, Па"}}
       },
       {
        "data": {"values": [{"T": 178.5, "v": 4.4e5}]},
        "mark": {"type": "point", "shape": "triangle-right", "filled": true, "color": "#000", "opacity": 1, "size": 110},
        "encoding": {"x": {"field": "T", "type": "quantitative", "title": "Температура, °С"}, "y": {"field": "v", "type": "quantitative", "title": "G′, Па"}}
       },
       {
        "data": {"values": [{"T": 176.3, "v": 3.3e8, "t": "а"}]},
        "mark": {"type": "text", "font": "DejaVu Serif", "fontStyle": "italic", "fontSize": 26, "color": "#111"},
        "encoding": {"x": {"field": "T", "type": "quantitative", "title": "Температура, °С"}, "y": {"field": "v", "type": "quantitative", "title": "G′, Па"}, "text": {"field": "t"}}
       }
      ]
     },
     {
      "data": {"name": "aG2"},
      "mark": {"type": "line", "strokeWidth": 1.6},
      "encoding": {
       "x": {"field": "T", "type": "quantitative", "title": "Температура, °С"},
       "y": {"field": "v", "type": "quantitative", "title": "G″, Па", "scale": {"type": "log", "domain": [1e5, 1e10], "nice": false}, "axis": {"orient": "right", "titleFontSize": 20, "labelPadding": 1, "titlePadding": 0, "values": [1e5,2e5,3e5,4e5,5e5,6e5,7e5,8e5,9e5,1e6,2e6,3e6,4e6,5e6,6e6,7e6,8e6,9e6,1e7,2e7,3e7,4e7,5e7,6e7,7e7,8e7,9e7,1e8,2e8,3e8,4e8,5e8,6e8,7e8,8e8,9e8,1e9,2e9,3e9,4e9,5e9,6e9,7e9,8e9,9e9,1e10], "labelExpr": "abs(log(datum.value)/LN10 - round(log(datum.value)/LN10)) < 0.001 ? '10' + ['⁰','¹','²','³','⁴','⁵','⁶','⁷','⁸','⁹','¹⁰'][round(log(datum.value)/LN10)] : ''", "tickSize": {"condition": {"test": "abs(log(datum.value)/LN10 - round(log(datum.value)/LN10)) < 0.001", "value": 6}, "value": 3}}},
       "color": {"field": "k", "type": "nominal"},
       "strokeDash": {"field": "k", "type": "nominal"}
      }
     }
    ],
    "resolve": {"scale": {"y": "independent"}, "axis": {"y": "independent"}}
   },
   {
    "width": 369, "height": 295,
    "layer": [
     {
      "data": {"name": "vv"},
      "mark": {"type": "line", "strokeWidth": 1.6},
      "encoding": {
       "x": {"field": "T", "type": "quantitative", "title": "Температура, °С", "scale": {"domain": [12, 187.7], "nice": false, "zero": false}, "axis": {"orient": "bottom", "titlePadding": 9, "values": [25,50,75,100,125,150,175], "labelExpr": "datum.value % 50 === 0 ? datum.label : ''", "tickSize": {"condition": {"test": "datum.value % 50 === 0", "value": 6}, "value": 3}}},
       "y": {"field": "v", "type": "quantitative", "title": "tan(δ)", "scale": {"domain": [0, 0.4245], "nice": false, "zero": false}, "axis": {"values": [0,0.05,0.1,0.15,0.2,0.25,0.3,0.35,0.4], "labelExpr": "abs(datum.value*10 - round(datum.value*10)) < 0.001 ? replace(format(datum.value, '.1f'), '.', ',') : ''", "tickSize": {"condition": {"test": "abs(datum.value*10 - round(datum.value*10)) < 0.001", "value": 6}, "value": 3}}},
       "color": {"field": "k", "type": "nominal", "scale": {"domain": ["0","0,2Гр/А","0,5Гр/А","2Гр/А","5Гр/А"], "range": ["#111111","#b01e23","#3fcf4f","#1a1a78","#d4892a"]}, "legend": {"orient": "none", "legendX": 13, "legendY": 3.6, "title": null, "padding": 0, "rowPadding": 0.7, "labelFont": "DejaVu Serif", "labelFontSize": 18, "labelColor": "#111", "symbolType": "M-3,0H3", "symbolSize": 121, "symbolStrokeWidth": 1.8, "labelOffset": 13, "labelLimit": 400, "labelExpr": "datum.value == '0' ? 'СВМПЭ' : 'СВМПЭ + ' + datum.value"}},
       "strokeDash": {"field": "k", "type": "nominal", "scale": {"domain": ["0","0,2Гр/А","0,5Гр/А","2Гр/А","5Гр/А"], "range": [[1,0],[9,5],[2,4],[9,4,2,4],[9,3,2,3,2,3]]}, "legend": {"orient": "none", "legendX": 13, "legendY": 3.6, "title": null, "padding": 0, "rowPadding": 0.7, "labelFont": "DejaVu Serif", "labelFontSize": 18, "labelColor": "#111", "symbolType": "M-3,0H3", "symbolSize": 121, "symbolStrokeWidth": 1.8, "labelOffset": 13, "labelLimit": 400, "labelExpr": "datum.value == '0' ? 'СВМПЭ' : 'СВМПЭ + ' + datum.value"}}
      }
     },
     {
      "data": {"values": [{"T": 175.3, "v": 0.381, "t": "в"}]},
      "mark": {"type": "text", "font": "DejaVu Serif", "fontStyle": "italic", "fontSize": 26, "color": "#111"},
      "encoding": {"x": {"field": "T", "type": "quantitative", "title": "Температура, °С"}, "y": {"field": "v", "type": "quantitative", "title": "tan(δ)"}, "text": {"field": "t"}}
     }
    ]
   }
  ],
  "resolve": {"scale": {"x": "independent", "y": "independent", "color": "independent", "strokeDash": "independent"}, "legend": {"color": "independent", "strokeDash": "independent"}}
 },
 {
  "bounds": "flush",
  "spacing": 0,
  "vconcat": [
   {
    "width": 354, "height": 276,
    "layer": [
     {
      "data": {"name": "bb"},
      "mark": {"type": "line", "strokeWidth": 1.6},
      "encoding": {
       "x": {"field": "T", "type": "quantitative", "title": "Температура, °С", "scale": {"domain": [13.3, 181.9], "nice": false, "zero": false}, "axis": {"orient": "top", "values": [25,50,75,100,125,150,175], "labelExpr": "datum.value % 50 === 0 ? datum.label : ''", "tickSize": {"condition": {"test": "datum.value % 50 === 0", "value": 6}, "value": 3}}},
       "y": {"field": "v", "type": "quantitative", "title": "tan(δ)", "scale": {"domain": [0, 0.423], "nice": false, "zero": false}, "axis": {"titlePadding": 16, "values": [0,0.05,0.1,0.15,0.2,0.25,0.3,0.35,0.4], "labelExpr": "abs(datum.value*10 - round(datum.value*10)) < 0.001 ? replace(format(datum.value, '.1f'), '.', ',') : ''", "tickSize": {"condition": {"test": "abs(datum.value*10 - round(datum.value*10)) < 0.001", "value": 6}, "value": 3}}},
       "color": {"field": "k", "type": "nominal", "scale": {"domain": ["0","2А","5А","10А","15А","20А"], "range": ["#111111","#b01e23","#3fcf4f","#1a1a78","#d4892a","#3d1f8f"]}, "legend": {"orient": "none", "legendX": 10, "legendY": 0.5, "title": null, "padding": 0, "rowPadding": 0, "labelFont": "DejaVu Serif", "labelFontSize": 17, "labelColor": "#111", "symbolType": "M-3,0H3", "symbolSize": 121, "symbolStrokeWidth": 1.8, "labelOffset": 12, "labelLimit": 400, "labelExpr": "datum.value == '0' ? 'СВМПЭ' : 'СВМПЭ + ' + datum.value"}},
       "strokeDash": {"field": "k", "type": "nominal", "scale": {"domain": ["0","2А","5А","10А","15А","20А"], "range": [[1,0],[9,5],[2,4],[9,4,2,4],[9,3,2,3,2,3],[4,3]]}, "legend": {"orient": "none", "legendX": 10, "legendY": 0.5, "title": null, "padding": 0, "rowPadding": 0, "labelFont": "DejaVu Serif", "labelFontSize": 17, "labelColor": "#111", "symbolType": "M-3,0H3", "symbolSize": 121, "symbolStrokeWidth": 1.8, "labelOffset": 12, "labelLimit": 400, "labelExpr": "datum.value == '0' ? 'СВМПЭ' : 'СВМПЭ + ' + datum.value"}}
      }
     },
     {
      "data": {"values": [{"T": 169.8, "v": 0.3877, "t": "б"}]},
      "mark": {"type": "text", "font": "DejaVu Serif", "fontStyle": "italic", "fontSize": 26, "color": "#111"},
      "encoding": {"x": {"field": "T", "type": "quantitative", "title": "Температура, °С"}, "y": {"field": "v", "type": "quantitative", "title": "tan(δ)"}, "text": {"field": "t"}}
     }
    ]
   },
   {
    "width": 354, "height": 291,
    "layer": [
     {
      "data": {"name": "gg"},
      "mark": {"type": "line", "strokeWidth": 1.6},
      "encoding": {
       "x": {"field": "T", "type": "quantitative", "title": "Температура, °С", "scale": {"domain": [13.3, 181.9], "nice": false, "zero": false}, "axis": {"orient": "bottom", "titlePadding": 9, "values": [25,50,75,100,125,150,175], "labelExpr": "datum.value % 50 === 0 ? datum.label : ''", "tickSize": {"condition": {"test": "datum.value % 50 === 0", "value": 6}, "value": 3}}},
       "y": {"field": "v", "type": "quantitative", "title": "tan(δ)", "scale": {"domain": [0, 0.428], "nice": false, "zero": false}, "axis": {"titlePadding": 16, "values": [0,0.05,0.1,0.15,0.2,0.25,0.3,0.35,0.4], "labelExpr": "abs(datum.value*10 - round(datum.value*10)) < 0.001 ? replace(format(datum.value, '.1f'), '.', ',') : ''", "tickSize": {"condition": {"test": "abs(datum.value*10 - round(datum.value*10)) < 0.001", "value": 6}, "value": 3}}},
       "color": {"field": "k", "type": "nominal", "scale": {"domain": ["0","0,2Гр","1Гр","2Гр","3Гр","6Гр"], "range": ["#111111","#b01e23","#3fcf4f","#1a1a78","#d4892a","#3d1f8f"]}, "legend": {"orient": "none", "legendX": 11, "legendY": 2, "title": null, "padding": 0, "rowPadding": 0.7, "labelFont": "DejaVu Serif", "labelFontSize": 18, "labelColor": "#111", "symbolType": "M-3,0H3", "symbolSize": 121, "symbolStrokeWidth": 1.8, "labelOffset": 12, "labelLimit": 400, "labelExpr": "datum.value == '0' ? 'СВМПЭ' : 'СВМПЭ + ' + datum.value"}},
       "strokeDash": {"field": "k", "type": "nominal", "scale": {"domain": ["0","0,2Гр","1Гр","2Гр","3Гр","6Гр"], "range": [[1,0],[9,5],[2,4],[9,4,2,4],[9,3,2,3,2,3],[4,3]]}, "legend": {"orient": "none", "legendX": 11, "legendY": 2, "title": null, "padding": 0, "rowPadding": 0.7, "labelFont": "DejaVu Serif", "labelFontSize": 18, "labelColor": "#111", "symbolType": "M-3,0H3", "symbolSize": 121, "symbolStrokeWidth": 1.8, "labelOffset": 12, "labelLimit": 400, "labelExpr": "datum.value == '0' ? 'СВМПЭ' : 'СВМПЭ + ' + datum.value"}}
      }
     },
     {
      "data": {"values": [{"T": 169.8, "v": 0.391, "t": "г"}]},
      "mark": {"type": "text", "font": "DejaVu Serif", "fontStyle": "italic", "fontSize": 26, "color": "#111"},
      "encoding": {"x": {"field": "T", "type": "quantitative", "title": "Температура, °С"}, "y": {"field": "v", "type": "quantitative", "title": "tan(δ)"}, "text": {"field": "t"}}
     }
    ]
   }
  ],
  "resolve": {"scale": {"x": "independent", "y": "independent", "color": "independent", "strokeDash": "independent"}, "legend": {"color": "independent", "strokeDash": "independent"}}
 }
],
"resolve": {"scale": {"x": "independent", "y": "independent", "color": "independent", "strokeDash": "independent"}, "legend": {"color": "independent", "strokeDash": "independent"}}
}
